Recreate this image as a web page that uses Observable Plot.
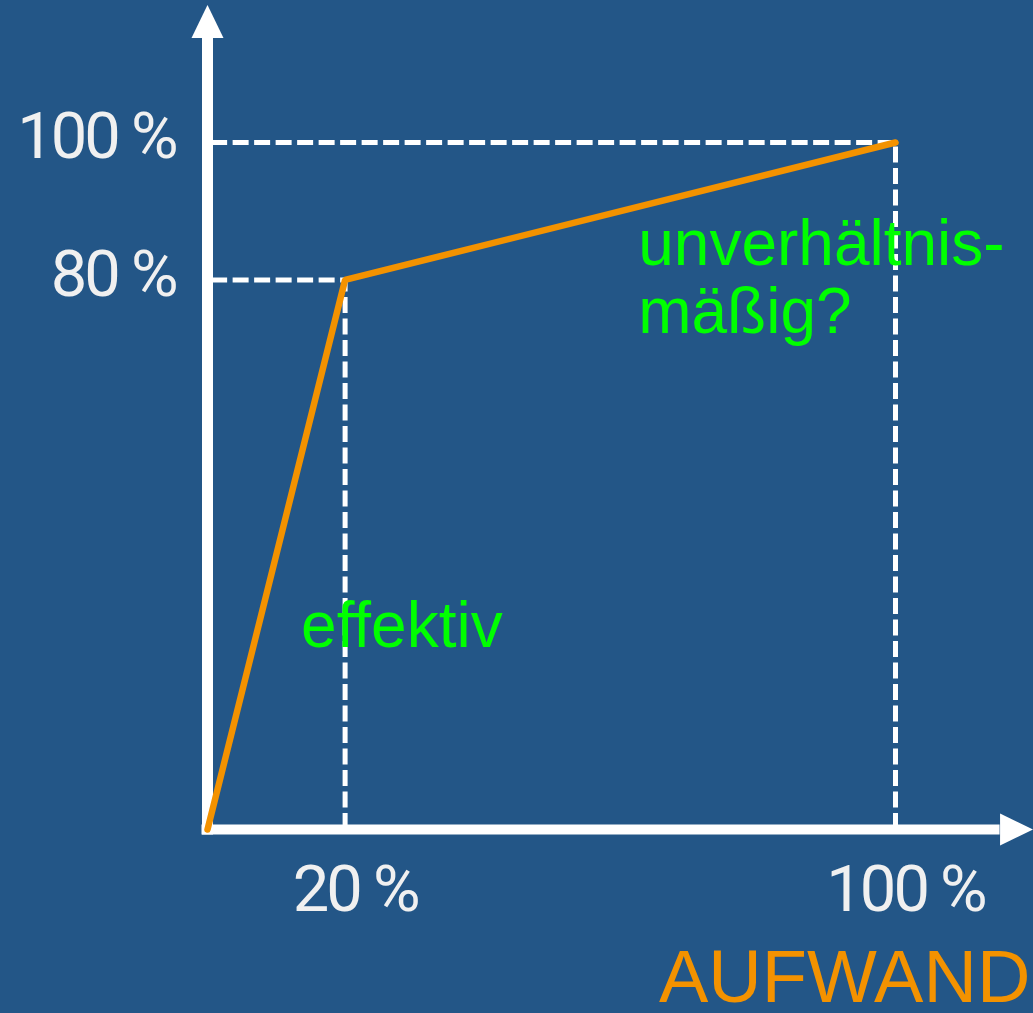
<!DOCTYPE html>
<html>
<head>
<meta charset="utf-8">
<script src="https://cdn.jsdelivr.net/npm/d3@7"></script>
<script src="https://cdn.jsdelivr.net/npm/@observablehq/plot@0.6"></script>
<style>
  html, body { margin: 0; padding: 0; background: #235687; }
  #chart { width: 1033px; height: 1013px; overflow: hidden; }
  #chart g[aria-label$="tick label"] text { letter-spacing: -3px; }
</style>
</head>
<body>
<div id="chart"></div>
<script>
// Data: effort (Aufwand, %) vs result (%)
const effort = [0, 20, 100];
const result = [0, 80, 100];
const xTicks = [20, 100];
const yTicks = [80, 100];
const annotationText = ["effektiv", "unverhältnis-\nmäßig?"];
const annotationX = [13.6, 62.6];
const annotationY = [29.7, 80.4];
const axisTitle = "AUFWAND";
const axisExtent = 115.2; // axis arrow base, in data units

const points = effort.map((x, i) => ({x, y: result[i]}));
const corners = points.slice(1);
const notes = annotationText.map((text, i) => ({text, x: annotationX[i], y: annotationY[i]}));

const arrowHead = {
  draw(ctx) {
    ctx.moveTo(0, -33);
    ctx.lineTo(16, 0);
    ctx.lineTo(-16, 0);
    ctx.closePath();
  }
};

const white = "#ffffff";
const orange = "#f39200";
const green = "#00ff00";
const tickFont = "Roboto, 'Noto Sans', sans-serif";
const textFont = "'Liberation Sans', Arial, sans-serif";

const chart = Plot.plot({
  width: 1033,
  height: 1013,
  marginLeft: 207,
  marginRight: 138,
  marginTop: 142,
  marginBottom: 184,
  style: {background: "#235687", color: "#f0f0f0", overflow: "visible"},
  x: {domain: [0, 100]},
  y: {domain: [0, 100]},
  marks: [
    // axes lines with arrowheads
    Plot.ruleX([0], {y1: -0.8, y2: axisExtent, stroke: white, strokeWidth: 11}),
    Plot.ruleY([0], {x1: -0.8, x2: axisExtent, stroke: white, strokeWidth: 10}),
    Plot.dot([0], {x: 0, y: () => axisExtent, symbol: arrowHead, fill: white, stroke: null, r: 10}),
    Plot.dot([0], {x: () => axisExtent, y: 0, symbol: arrowHead, fill: white, stroke: null, r: 10, rotate: 90}),
    // dashed guides
    Plot.ruleY(corners, {y: "y", x1: 0.6, x2: "x", stroke: white, strokeWidth: 5, strokeDasharray: "16,5.5"}),
    Plot.ruleX(corners, {x: "x", y1: 0, y2: "y", stroke: white, strokeWidth: 5, strokeDasharray: "16,5.5"}),
    // curve
    Plot.line(points, {x: "x", y: "y", stroke: orange, strokeWidth: 6.5, strokeLinejoin: "miter"}),
    // tick labels
    Plot.axisY({ticks: yTicks, tickFormat: d => `${d} %`, tickSize: 0, tickPadding: 32, fontSize: 65, fontFamily: tickFont, dy: -5, label: null, fill: "#f0f0f0"}),
    Plot.axisX({ticks: xTicks, tickFormat: d => `${d} %`, tickSize: 0, tickPadding: 35, fontSize: 65, fontFamily: tickFont, dx: 10, label: null, fill: "#f0f0f0"}),
    // annotations
    Plot.text(notes, {x: "x", y: "y", text: "text", textAnchor: "start", fill: green, fontSize: 64, fontFamily: textFont, lineHeight: 1.06}),
    Plot.text([axisTitle], {x: () => 119.6, y: () => -21.6, text: d => d, textAnchor: "end", fill: orange, fontSize: 74, fontFamily: textFont})
  ]
});
document.getElementById("chart").appendChild(chart);
</script>
</body>
</html>
